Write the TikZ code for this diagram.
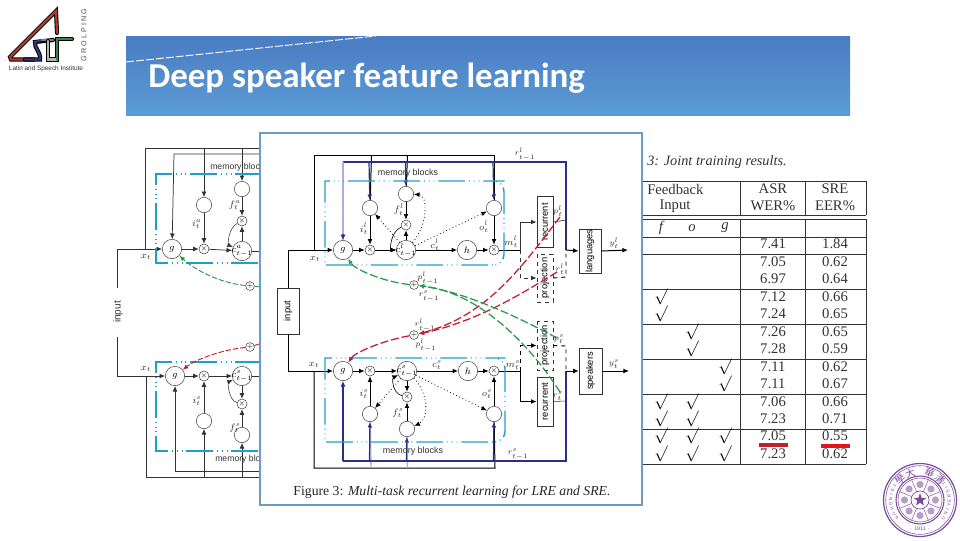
\documentclass[tikz,border=0pt]{standalone}
\usepackage{fontspec}
\setmainfont{Liberation Serif}
\newfontfamily\titlefont{Carlito}
\newfontfamily\sansf{Liberation Sans}
\newfontfamily\cjk{Noto Sans CJK TC}
\usetikzlibrary{arrows.meta,shapes.geometric}
\definecolor{bandtop}{HTML}{4A7CC2}
\definecolor{bandbot}{HTML}{5B9CD6}
\definecolor{panel}{HTML}{6A9CC4}
\definecolor{memblue}{HTML}{1FA0C8}
\definecolor{navy}{HTML}{2A2E8C}
\definecolor{lightnavy}{HTML}{A9AEDC}
\definecolor{redd}{HTML}{C2202C}
\definecolor{gree}{HTML}{2E9A50}
\definecolor{seal}{HTML}{7D4A9E}
\definecolor{lg}{HTML}{333333}
\newcommand{\ctr}[1]{\makebox[0pt]{#1}}
\tikzset{
 x=0.75pt,y=-0.75pt,
 arr/.style={-{Latex[length=4.2pt,width=3.6pt]}},
 wire/.style={draw=black,line width=.75pt},
 bigc/.style={circle,draw=lg,line width=.35pt,fill=white,minimum size=14.5pt,inner sep=0pt,font=\fontsize{7}{8}\selectfont\itshape},
 smallc/.style={circle,draw=lg,line width=.35pt,fill=white,minimum size=7.5pt,inner sep=0pt,font=\fontsize{4.5}{5}\selectfont},
 memc/.style={circle,draw=lg,line width=.35pt,fill=white,minimum size=11.5pt,inner sep=0pt},
 dashbox/.style={draw=memblue,line width=1.1pt,dash pattern=on 20pt off 3pt on .6pt off 3pt on .6pt off 3pt on .6pt off 3pt},
 boxn/.style={draw=lg,line width=.5pt,fill=white,rotate=90,inner sep=0pt,font=\sansf\fontsize{7}{8}\selectfont},
 dashn/.style={boxn,dashed},
 dots/.style={line width=.6pt,dotted,arr},
 redl/.style={draw=redd,line width=.95pt,dash pattern=on 6pt off 2.2pt,arr},
 grel/.style={draw=gree,line width=.95pt,dash pattern=on 6pt off 2.2pt,arr},
 lab/.style={font=\fontsize{7.5}{8}\selectfont\itshape,text=lg,inner sep=0pt},
 labs/.style={font=\fontsize{6}{7}\selectfont\itshape,text=lg,inner sep=0pt},
 memt/.style={font=\sansf\fontsize{6.5}{7}\selectfont,text=lg,inner sep=0pt},
 cell/.style={font=\fontsize{11}{13}\selectfont,text=lg,inner sep=0pt},
 chk/.style={font=\fontsize{12}{13}\selectfont,inner sep=0pt},
 rule/.style={draw=lg,line width=.55pt},
}
\begin{document}
\begin{tikzpicture}
\useasboundingbox (0,0) rectangle (960,540);
\fill[white] (0,0) rectangle (960,540);
% ---------- logo
\begin{scope}[line cap=round,line join=miter]
\draw[line width=3.1pt,black] (57,33) -- (56,11) -- (10,57) -- (11,59.5) -- (34,59.5);
\draw[line width=1.7pt,color={rgb,255:red,176;green,58;blue,48}] (57,33) -- (56,11) -- (10,57) -- (11,59.5) -- (25,59.5);
\draw[line width=3.1pt,black] (25,59.5) -- (40,59.5) .. controls (41,52) and (34,48) .. (35,42) -- (53,40);
\draw[line width=1.7pt,color={rgb,255:red,44;green,58;blue,120}] (25,59.5) -- (40,59.5) .. controls (41,52) and (34,48) .. (35,42) -- (42,40);
\draw[line width=1.7pt,color={rgb,255:red,120;green,130;blue,150}] (42,40) -- (53,40);
\draw[line width=3.1pt,black] (48,41) -- (48,59.5) -- (57,59.5) -- (57,39) -- (72,39);
\draw[line width=1.7pt,color={rgb,255:red,180;green,184;blue,176}] (48,41) -- (48,59.5) -- (57,59.5);
\draw[line width=1.7pt,color={rgb,255:red,60;green,130;blue,70}] (57,59.5) -- (57,39) -- (72,39);
\end{scope}
\node[rotate=90,font=\sansf\fontsize{5.4}{6}\selectfont,text=black!70,inner sep=0pt] (logog) at (84,35) {G R O L P I N G};
\node[font=\sansf\fontsize{4.8}{5}\selectfont,text=black!80,inner sep=0pt] (logot) at (46,69) {Latin and Speech Institute};
% ---------- banner
\shade[top color=bandtop,bottom color=bandbot,draw=none] (126,36) rectangle (850,115);
\draw[white,line width=.7pt,dash pattern=on 6pt off 1.5pt] (126,62) -- (376,36);
\node[anchor=base west,inner sep=0pt,text=white,font=\titlefont\bfseries\fontsize{26.2}{28}\selectfont] (title) at (148,87) {Deep speaker feature learning};
% ---------- rear left network
\begin{scope}[every path/.append style={line width=.55pt}]
\node[bigc] (lg) at (172,249) {$g$};
\node[smallc] (lx) at (204,249) {$\times$};
\node[bigc] (lc) at (242,251) {\ctr{$c^a_{t-1}$}};
\node[memc] (li) at (204,205) {};
\node[memc] (lf) at (242,189) {};
\node[smallc] (lxf) at (242,221) {$\times$};
\node[bigc] (bg) at (175,376) {$g$};
\node[smallc] (bx) at (204,376) {$\times$};
\node[bigc] (bc) at (242,376) {\ctr{$c^s_{t-1}$}};
\node[memc] (bi) at (204,421) {};
\node[memc] (bf) at (242,435) {};
\node[smallc] (bxf) at (242,404) {$\times$};
\node[rotate=90,font=\sansf\fontsize{7.5}{8}\selectfont,text=lg,inner sep=0pt] (lin) at (118,312) {input};
\coordinate (la) at (145,249); \coordinate (lb) at (145,148); \coordinate (le) at (262,148);
\coordinate (lp) at (174,154); \coordinate (lq) at (262,154);
\coordinate (lr) at (262,477); \coordinate (ls) at (146,477); \coordinate (lt) at (146,376);
\coordinate (lu) at (175,471); \coordinate (lv) at (262,471);
\coordinate (lw) at (204,148); \coordinate (ly) at (242,148); \coordinate (lw2) at (204,477); \coordinate (ly2) at (242,477);
\coordinate (lc2) at (262,251); \coordinate (bc2) at (262,376);
\coordinate (inu) at (117,288); \coordinate (inl) at (117,337);
\draw[lg] (la) -- (lb) -- (le);
\draw[lg,arr] (lq) -- (lp) -- (lg);
\draw[lg,arr] (lw) -- (li);
\draw[lg,arr] (ly) -- (lf);
\draw[lg,arr] (lf) -- (lxf);
\draw[lg,arr] (li) -- (lx);
\draw[lg,arr] (lc) -- (lxf);
\draw[lg,arr] (lg) -- (lx);
\draw[lg,arr] (lx) -- (lc);
\draw[lg] (lc) -- (lc2);
\draw[lg,arr] (inu) |- (lg);
\draw[lg,arr] (inl) |- (bg);
\draw[lg] (lt) -- (ls) -- (lr);
\draw[lg,arr] (lv) -- (lu) -- (bg);
\draw[lg,arr] (lw2) -- (bi);
\draw[lg,arr] (ly2) -- (bf);
\draw[lg,arr] (bf) -- (bxf);
\draw[lg,arr] (bi) -- (bx);
\draw[lg,arr] (bc) -- (bxf);
\draw[lg,arr] (bg) -- (bx);
\draw[lg,arr] (bx) -- (bc);
\draw[lg] (bc) -- (bc2);
\draw[lg,line width=.4pt,arr] (lxf) .. controls (228,228) and (228,245) .. (lc);
\draw[lg,line width=.4pt,arr] (bxf) .. controls (228,400) and (228,382) .. (bc);
\end{scope}
\draw[dashbox] (262,174) -- (156,174) -- (156,263) -- (262,263);
\draw[dashbox] (262,362) -- (156,362) -- (156,451) -- (262,451);
\node[memt,anchor=west] (lm1) at (210,167) {memory blocks};
\node[memt,anchor=west] (lm2) at (215,459) {memory blocks};
\node[lab] (lx1) at (146,257) {$x_t$};
\node[lab] (lx2) at (146,369) {$x_t$};
\node[lab] (li1) at (197,224) {$i^a_t$};
\node[lab] (lf1) at (235,205) {$f^a_t$};
\node[lab] (li2) at (197,401) {$i^s_t$};
\node[lab] (lf2) at (235,428) {$f^s_t$};
\node[smallc,minimum size=6pt] (lpg) at (250,286) {$+$};
\node[smallc,minimum size=6pt] (lpr) at (250,347) {$+$};
\draw[draw=gree,line width=.7pt,dash pattern=on 4pt off 1.5pt,arr] (lpg) .. controls (220,283) and (195,270) .. (lg);
\draw[draw=redd,line width=.7pt,dash pattern=on 4pt off 1.5pt,arr] (lpr) .. controls (220,350) and (195,360) .. (bg);
\coordinate (lg0) at (262,287); \coordinate (lr0) at (262,343);
\draw[gree,line width=.7pt] (lpg) -- (lg0);
\draw[redd,line width=.7pt] (lpr) -- (lr0);
% ---------- rear table
\node[anchor=west,cell,font=\fontsize{10.7}{13}\selectfont\itshape] (tcap) at (647,162.5) {3: Joint training results.};
\foreach \yy in {181,215,219,237,254,289,324,359,394,429,464}{\draw[rule] (643,\yy) -- (866,\yy);}
\foreach \xx/\ya/\yb in {740/181/215,805/181/215,866/181/215,740/219/464,805/219/464,866/219/464}{\draw[rule] (\xx,\ya) -- (\xx,\yb);}
\node[cell,anchor=west] (h1) at (647,189) {Feedback};
\node[cell] (h2) at (675,206) {Input};
\node[cell] (h3) at (773,189) {ASR};
\node[cell] (h4) at (773,206) {WER\%};
\node[cell] (h5) at (835,189) {SRE};
\node[cell] (h6) at (835,206) {EER\%};
\node[cell] (c1) at (661,228) {\itshape f};
\node[cell] (c2) at (692,228) {\itshape o};
\node[cell] (c3) at (725,228) {\itshape g};
\foreach \yy/\aa/\bb in {244/7.41/1.84,262/7.05/0.62,279/6.97/0.64,297/7.12/0.66,314/7.24/0.65,332/7.26/0.65,349/7.28/0.59,367/7.11/0.62,384/7.11/0.67,402/7.06/0.66,419/7.23/0.71,436/7.05/0.55,454/7.23/0.62}{
 \node[cell] at (773,\yy) {\aa};
 \node[cell] at (835,\yy) {\bb};
}
\foreach \xx/\yy in {661/297,661/314,692/332,692/349,725/367,725/384,661/402,692/402,661/419,692/419,661/436,692/436,725/436,661/454,692/454,725/454}{
 \node[chk] at (\xx,\yy) {$\surd$};
}
\draw[redd,line width=2.3pt] (759,445) -- (788,445);
\draw[color={rgb,255:red,226;green,20;blue,30},line width=2.3pt] (821,446) -- (850,446);
% ---------- front panel
\draw[panel,fill=white,line width=1.6pt] (260,133) rectangle (642,505);
\node[anchor=base,font=\fontsize{10.3}{12}\selectfont,text=black!85,inner sep=0pt] (fig) at (452,495) {Figure 3: \textit{Multi-task recurrent learning for LRE and SRE.}};
% --- top network
\node[bigc] (tg) at (343,250) {$g$};
\node[smallc] (tx1) at (370,250) {$\times$};
\node[bigc] (tc) at (406,250) {\ctr{$c^l_{t-1}$}};
\node[bigc] (th) at (467,250) {$h$};
\node[smallc] (tx2) at (494,250) {$\times$};
\node[memc] (ti) at (370,208) {};
\node[memc] (tf) at (406,194) {};
\node[memc] (to) at (494,208) {};
\node[smallc] (txf) at (406,225) {$\times$};
\node[boxn,minimum width=38pt,minimum height=12pt] (trec) at (545,222) {recurrent};
\node[dashn,minimum width=36pt,minimum height=12pt] (tpro) at (545,278) {projection};
\node[boxn,minimum width=33pt,minimum height=16.5pt] (tlan) at (590,251) {languages};
\node[boxn,minimum width=34.5pt,minimum height=16.5pt] (inp) at (288,311) {input};
\coordinate (tA) at (314,250); \coordinate (tB) at (314,155); \coordinate (tC) at (494,155);
\coordinate (ti0) at (371.5,155); \coordinate (tf0) at (407.5,155);
\coordinate (tD) at (343,162); \coordinate (tE) at (566,162); \coordinate (tF) at (566,250);
\coordinate (ti1) at (369,162); \coordinate (tf1) at (405.5,162); \coordinate (to1) at (493,162);
\coordinate (tm) at (520,250); \coordinate (tR) at (566,220); \coordinate (tP) at (566,277);
\coordinate (tY) at (628,250);
\draw[wire] (tA) -- (tB) -- (tC) -- (to);
\draw[wire] (ti0) -- (ti);
\draw[wire] (tf0) -- (tf);
\draw[navy,line width=1pt] (tD) -- (tE) -- (tF);
\draw[lightnavy,line width=1pt] (tD) -- (343,236);
\draw[navy,line width=.1pt,arr] (343,234) -- (tg);
\draw[navy,line width=.9pt,arr] (ti1) -- (ti);
\draw[navy,line width=.9pt,arr] (tf1) -- (tf);
\draw[navy,line width=.9pt,arr] (to1) -- (to);
\draw[wire,arr] (inp.east) |- (tg);
\draw[wire,arr] (tg) -- (tx1);
\draw[wire,arr] (tx1) -- (tc);
\draw[wire,arr] (tc) -- (th);
\draw[wire,arr] (th) -- (tx2);
\draw[wire,arr] (ti) -- (tx1);
\draw[wire,arr] (to) -- (tx2);
\draw[wire,arr] (tf) -- (txf);
\draw[wire,arr] (tc) -- (txf);
\draw[wire,line width=.45pt,arr] (txf) .. controls (390,232) and (390,250) .. (tc);
\draw[wire] (tx2) -- (tm);
\draw[lg,line width=.7pt,arr] (tm) |- (trec.north);
\draw[lg,line width=.7pt,dashed,arr] (tm) |- (tpro.north);
\draw[lg,line width=.5pt] (trec.south) -- (tR) -- (tF);
\draw[black,line width=.7pt,dashed] (tpro.south) -- (tP) -- (tF);
\draw[wire,arr] (tF) -- (tlan.north);
\draw[wire,arr] (tlan.south) -- (tY);
\draw[dots] (tc) -- (ti);
\draw[dots] (tc) -- (to);
\draw[dots] (tc) .. controls (428,225) and (428,195) .. (tf);
\draw[dashbox] (330,181) -- (325,181) -- (325,265) -- (494,265) [rounded corners=8pt] -- (504,265) -- (504,181) -- (494,181) [sharp corners] -- (330,181);
% --- bottom network
\node[bigc] (ug) at (343,371) {$g$};
\node[smallc] (ux1) at (370,371) {$\times$};
\node[bigc] (uc) at (407,371) {\ctr{$c^s_{t-1}$}};
\node[bigc] (uh) at (468,371) {$h$};
\node[smallc] (ux2) at (494,371) {$\times$};
\node[memc] (ui) at (370,414) {};
\node[memc] (uf) at (407,429) {};
\node[memc] (uo) at (494,414) {};
\node[smallc] (uxf) at (407,397) {$\times$};
\node[dashn,minimum width=37pt,minimum height=12pt] (upro) at (545,345.5) {projection};
\node[boxn,minimum width=37pt,minimum height=12pt] (urec) at (545,401.5) {recurrent};
\node[boxn,minimum width=34.5pt,minimum height=17pt] (uspe) at (590.5,371) {speakers};
\coordinate (uA) at (314,371); \coordinate (uB) at (314,468); \coordinate (uC) at (495,468);
\coordinate (ui0) at (371,468); \coordinate (uf0) at (407.5,468);
\coordinate (uD) at (343,461); \coordinate (uE) at (566,461); \coordinate (uF) at (566,371);
\coordinate (um) at (520,371); \coordinate (uR) at (566,401); \coordinate (uP) at (566,346);
\coordinate (uY) at (629,371);
\draw[wire] (uA) -- (uB) -- (uC) -- (uo);
\draw[lightnavy,line width=1pt] (ui0) -- (ui);
\draw[lightnavy,line width=1pt] (uf0) -- (uf);
\draw[navy,line width=.9pt] (uD) -- (uE) -- (uF);
\draw[navy,line width=.8pt,arr] (uD) -- (ug);
\draw[navy,line width=.9pt,arr] (369.5,461) -- (ui);
\draw[navy,line width=.9pt,arr] (406.5,461) -- (uf);
\draw[navy,line width=.9pt,arr] (493.5,461) -- (uo);
\draw[wire,arr] (inp.west) |- (ug);
\draw[wire,arr] (ug) -- (ux1);
\draw[wire,arr] (ux1) -- (uc);
\draw[wire,arr] (uc) -- (uh);
\draw[wire,arr] (uh) -- (ux2);
\draw[wire,arr] (ui) -- (ux1);
\draw[wire,arr] (uo) -- (ux2);
\draw[wire,arr] (uf) -- (uxf);
\draw[wire,arr] (uc) -- (uxf);
\draw[wire,line width=.45pt,arr] (uxf) .. controls (392,393) and (392,378) .. (uc);
\draw[wire] (ux2) -- (um);
\draw[wire,arr] (um) |- (urec.north);
\draw[wire,dashed,arr] (um) |- (upro.north);
\draw[navy,line width=.4pt] (urec.south) -- (uR) -- (uF);
\draw[black,line width=.7pt,dashed] (upro.south) -- (uP) -- (uF);
\draw[wire,arr] (uF) -- (uspe.north);
\draw[wire,arr] (uspe.south) -- (uY);
\draw[dots] (uc) -- (ui);
\draw[dots] (uc) -- (uo);
\draw[dots] (uc) .. controls (430,395) and (428,420) .. (uf);
\draw[dashbox] (330,358) -- (325,358) -- (325,442) -- (495,442) [rounded corners=8pt] -- (505,442) -- (505,358) -- (495,358) [sharp corners] -- (330,358);
% --- feedback
\node[smallc,minimum size=6.5pt] (fg) at (414,285) {$+$};
\node[smallc,minimum size=6.5pt] (fr) at (414,335) {$+$};
\coordinate (g1) at (557,338); \coordinate (g2) at (560,392);
\coordinate (r1) at (560,217); \coordinate (r2) at (557,272);
\draw[redl] (r1) .. controls (525,262) and (490,315) .. (fr);
\draw[redl] (r2) .. controls (520,295) and (475,322) .. (fr);
\draw[grel] (g1) .. controls (520,318) and (465,292) .. (fg);
\draw[grel] (g2) .. controls (530,345) and (480,293) .. (fg);
\draw[redl] (fr) .. controls (385,340) and (355,352) .. (ug);
\draw[grel] (fg) .. controls (385,282) and (355,270) .. (tg);
% --- labels
\node[memt,font=\sansf\fontsize{6.7}{7}\selectfont] (m1) at (408,173) {memory blocks};
\node[memt,font=\sansf\fontsize{6.7}{7}\selectfont] (m2) at (413,451) {memory blocks};
\foreach \pos/\txt in {(525,154)/r^l_{t-1},(518,454)/r^s_{t-1},(558,211)/p^l_t,(560,269)/r^l_t,(559,339)/p^s_t,(558,396)/r^s_t,(428,278)/p^l_{t-1},(429,296)/r^s_{t-1},(425,325)/r^l_{t-1},(426,345)/p^l_{t-1},(614,243)/y^l_t,(614,364)/y^s_t}{
 \node[labs] at \pos {$\txt$};
}
\foreach \pos/\txt in {(511,242)/m^l_t,(513,365)/m^s_t,(435,245)/c^l_t,(437,365)/c^s_t,(364,229)/i^l_t,(399,210)/f^l_t,(484,227)/o^l_t,(364,394)/i^s_t,(398,413)/f^s_t,(487,394)/o^s_t,(315,259)/x_t,(314,365)/x_t}{
 \node[lab] at \pos {$\txt$};
}
% ---------- seal
\begin{scope}[seal]
\def\cx{920}\def\cy{500}
\coordinate (sc) at (\cx,\cy);
\draw[line width=.9pt] (sc) circle[radius=36.5];
\draw[line width=.4pt] (sc) circle[radius=34.3];
\draw[line width=.8pt] (sc) circle[radius=24];
\draw[line width=.4pt] (sc) circle[radius=22];
\draw[line width=.5pt] (sc) circle[radius=9];
\foreach \a in {0,45,...,315}{
 \draw[line width=.35pt] ({\cx+9*cos(\a+22.5)},{\cy-9*sin(\a+22.5)}) -- ({\cx+22*cos(\a+22.5)},{\cy-22*sin(\a+22.5)});
 \fill[seal!55] ({\cx+15.5*cos(\a)},{\cy-15.5*sin(\a)}) circle[radius=3.6];
}
\node[star,star points=5,star point ratio=2.4,fill=seal,inner sep=0pt,minimum size=10pt,draw=none] (sstar) at (sc) {};
\foreach \a/\ch in {134/學,110/大,70/華,46/清}{
 \node[rotate=\a-90,font=\cjk\fontsize{7.3}{8}\selectfont,text=seal,inner sep=0pt] at ({\cx+28.7*cos(\a)},{\cy-28.7*sin(\a)}) {\ch};
}
\foreach \a/\ch in {150/T,160/S,169/I,178/N,188/G,198/H,208/U,218/A,322/U,332/N,341/I,350/V,359/E,8/R,17/S,26/I,35/T,44/Y}{
 \node[rotate=\a+90,font=\sansf\fontsize{3.4}{4}\selectfont,text=seal,inner sep=0pt] at ({\cx+29.3*cos(\a)},{\cy-29.3*sin(\a)}) {\ch};
}
\node[font=\sansf\fontsize{4}{4}\selectfont,text=seal,inner sep=0pt] (syear) at (920,529) {$\cdot$ 1911 $\cdot$};
\end{scope}
\end{tikzpicture}
\end{document}
